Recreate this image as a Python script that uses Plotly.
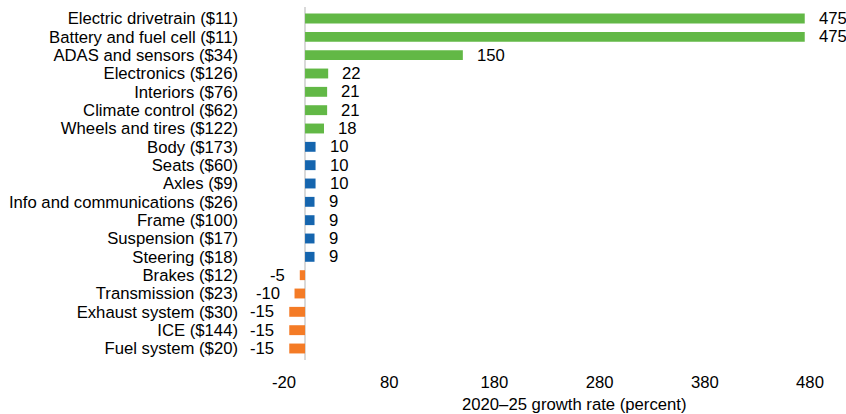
import plotly.graph_objects as go

categories = [
    "Electric drivetrain ($11)", "Battery and fuel cell ($11)", "ADAS and sensors ($34)",
    "Electronics ($126)", "Interiors ($76)", "Climate control ($62)", "Wheels and tires ($122)",
    "Body ($173)", "Seats ($60)", "Axles ($9)", "Info and communications ($26)", "Frame ($100)",
    "Suspension ($17)", "Steering ($18)", "Brakes ($12)", "Transmission ($23)",
    "Exhaust system ($30)", "ICE ($144)", "Fuel system ($20)",
]
values = [475, 475, 150, 22, 21, 21, 18, 10, 10, 10, 9, 9, 9, 9, -5, -10, -15, -15, -15]
groups = ["high"] * 7 + ["mid"] * 7 + ["low"] * 5
tick_vals = [-20, 80, 180, 280, 380, 480]
x_title = "2020–25 growth rate (percent)"

group_colors = {"high": "#62B846", "mid": "#1565AE", "low": "#F47B26"}
colors = [group_colors[g] for g in groups]

font = "Liberation Sans, Arial, sans-serif"
FS = 16.7

L, R, T, B = 284, 36, 7, 54
W, H = 846, 414
plot_w = W - L - R
plot_h = H - T - B

fig = go.Figure()
fig.add_trace(go.Bar(
    x=values, y=categories, orientation="h",
    marker=dict(color=colors, line=dict(width=0)),
    hoverinfo="x+y",
))

annotations = []
for c, v in zip(categories, values):
    annotations.append(dict(
        x=v, y=c, xref="x", yref="y", text=str(v), showarrow=False,
        xanchor="left" if v >= 0 else "right",
        xshift=12 if v >= 0 else -13,
        font=dict(family=font, size=FS, color="#000000"),
    ))
annotations.append(dict(
    x=(574 - L) / plot_w, y=-(405 - (T + plot_h)) / plot_h,
    xref="paper", yref="paper", text=x_title, showarrow=False,
    xanchor="center", yanchor="middle",
    font=dict(family=font, size=FS, color="#000000"),
))

fig.update_layout(
    width=W, height=H,
    margin=dict(l=L, r=R, t=T, b=B, autoexpand=False),
    paper_bgcolor="white", plot_bgcolor="white",
    bargap=0.46,
    showlegend=False,
    font=dict(family=font, size=FS, color="#000000"),
    annotations=annotations,
    xaxis=dict(
        range=[-20, 480], tickvals=tick_vals, ticktext=[str(t) for t in tick_vals],
        showgrid=False, zeroline=True, zerolinecolor="#D9D9D9", zerolinewidth=2,
        showline=False, ticks="", ticklabelstandoff=10, automargin=False,
        tickfont=dict(family=font, size=FS, color="#000000"),
    ),
    yaxis=dict(
        autorange="reversed", showgrid=False, showline=False, ticks="",
        tickmode="array", tickvals=categories, ticktext=categories,
        ticklabelstandoff=45, automargin=False,
        tickfont=dict(family=font, size=FS, color="#000000"),
    ),
)

fig.write_html(
    "out.html",
    config={"displayModeBar": False},
    post_script="document.body.style.margin='0px';document.body.style.overflow='hidden';",
)
